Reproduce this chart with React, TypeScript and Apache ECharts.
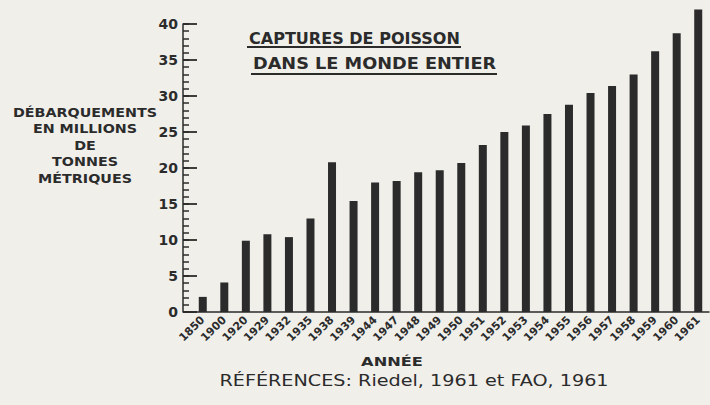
import React, { useEffect, useRef } from "react";
import * as echarts from "echarts";

const years = ["1850","1900","1920","1929","1932","1935","1938","1939","1944","1947","1948","1949","1950","1951","1952","1953","1954","1955","1956","1957","1958","1959","1960","1961"];
const landings = [2.1,4.1,9.9,10.8,10.4,13.0,20.8,15.4,18.0,18.2,19.4,19.7,20.7,23.2,25.0,25.9,27.5,28.8,30.4,31.4,33.0,36.2,38.7,42.0];
const titleLines = ["CAPTURES DE POISSON", "DANS LE MONDE ENTIER"];
const yNameLines = ["DÉBARQUEMENTS", "EN MILLIONS", "DE", "TONNES", "MÉTRIQUES"];
const xName = "ANNÉE";
const sourceText = "RÉFÉRENCES: Riedel, 1961 et FAO, 1961";

const INK = "#2b2b2b";
const FONT = "DejaVu Sans";

export default function App() {
  const ref = useRef<HTMLDivElement>(null);
  useEffect(() => {
    const chart = echarts.init(ref.current!, null, { renderer: "svg" });
    const yNameGraphics = yNameLines.map((t, i) => ({
      type: "text",
      x: 85,
      y: 112 + i * 16.5,
      scaleX: 1.1,
      style: { text: t, fill: INK, font: `bold 13px '${FONT}'`, align: "center", verticalAlign: "middle" },
    }));
    chart.setOption({
      animation: false,
      backgroundColor: "#f0efea",
      grid: { left: 192, right: 1, top: 24, bottom: 93, containLabel: false },
      xAxis: {
        type: "category",
        data: years,
        boundaryGap: true,
        axisLine: { show: true, lineStyle: { color: INK, width: 1.5 } },
        axisTick: { show: false },
        axisLabel: { rotate: 45, margin: 6, color: INK, fontFamily: FONT, fontSize: 11, fontWeight: "bold", interval: 0 },
      },
      yAxis: [
        {
          type: "value",
          position: "left",
          min: 0,
          max: 40,
          interval: 5,
          offset: 9,
          splitLine: { show: false },
          axisLine: { show: true, lineStyle: { color: INK, width: 1.5 } },
          axisTick: { show: true, inside: true, length: 14, lineStyle: { color: INK, width: 1.8 } },
          axisLabel: { margin: 5, color: INK, fontFamily: FONT, fontSize: 14, fontWeight: "bold" },
        },
        {
          type: "value",
          position: "left",
          min: 0,
          max: 40,
          interval: 1,
          offset: 9,
          splitLine: { show: false },
          axisLine: { show: false },
          axisTick: { show: true, inside: true, length: 6, lineStyle: { color: INK, width: 1.5 } },
          axisLabel: { show: false },
        },
      ],
      series: [
        {
          type: "bar",
          data: landings,
          barWidth: 8,
          clip: false,
          itemStyle: { color: INK },
        },
      ],
      graphic: [
        { type: "line", shape: { x1: 183, y1: 312, x2: 192, y2: 312 }, style: { stroke: INK, lineWidth: 1.5 } },
        { type: "text", x: 249, y: 39, scaleX: 1.07, style: { text: titleLines[0], fill: INK, font: `bold 15px '${FONT}'`, align: "left", verticalAlign: "middle" } },
        { type: "line", shape: { x1: 247, y1: 47, x2: 461, y2: 47 }, style: { stroke: INK, lineWidth: 1.8 } },
        { type: "text", x: 253, y: 64, scaleX: 1.18, style: { text: titleLines[1], fill: INK, font: `bold 15px '${FONT}'`, align: "left", verticalAlign: "middle" } },
        { type: "line", shape: { x1: 251, y1: 74, x2: 497, y2: 74 }, style: { stroke: INK, lineWidth: 1.8 } },
        ...yNameGraphics,
        { type: "text", x: 392, y: 362, scaleX: 1.35, style: { text: xName, fill: INK, font: `bold 12px '${FONT}'`, align: "center", verticalAlign: "middle" } },
        { type: "text", x: 414, y: 381, scaleX: 1.2, style: { text: sourceText, fill: INK, font: `16px '${FONT}'`, align: "center", verticalAlign: "middle" } },
      ],
    });
    return () => chart.dispose();
  }, []);
  return <div ref={ref} style={{ width: 710, height: 405, position: "fixed", left: 0, top: 0 }} />;
}
